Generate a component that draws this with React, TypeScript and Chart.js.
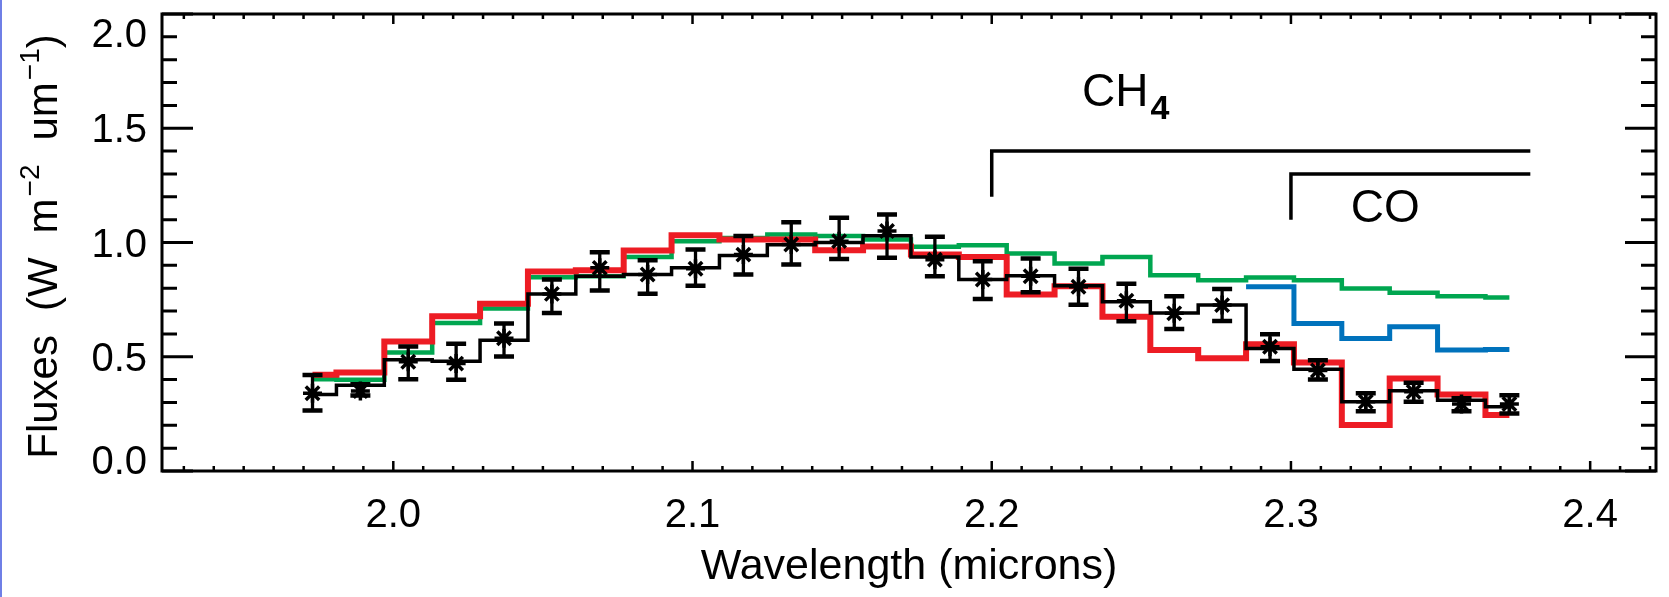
import React, { useEffect, useRef } from 'react';
import { Chart, registerables } from 'chart.js';

Chart.register(...registerables);

// ---- data ----
const wavelengths = [
  1.973, 1.989, 2.005, 2.021, 2.037, 2.053, 2.069, 2.085, 2.101, 2.117, 2.133, 2.149, 2.165,
  2.181, 2.197, 2.213, 2.229, 2.245, 2.261, 2.277, 2.293, 2.309, 2.325, 2.341, 2.357, 2.373,
];
const observed = [
  0.34, 0.35, 0.478, 0.47, 0.581, 0.775, 0.889, 0.86, 0.885, 0.947, 0.991, 1.006, 1.05,
  0.925, 0.838, 0.852, 0.806, 0.745, 0.69, 0.726, 0.544, 0.44, 0.303, 0.347, 0.293, 0.293,
];
const observedHigh = [
  0.42, 0.38, 0.545, 0.557, 0.645, 0.838, 0.957, 0.922, 0.969, 1.028, 1.089, 1.108, 1.123,
  1.025, 0.918, 0.93, 0.885, 0.82, 0.765, 0.796, 0.599, 0.485, 0.34, 0.386, 0.318, 0.332,
];
const observedLow = [
  0.265, 0.33, 0.402, 0.399, 0.501, 0.692, 0.79, 0.776, 0.811, 0.86, 0.904, 0.928, 0.933,
  0.852, 0.753, 0.782, 0.728, 0.655, 0.621, 0.656, 0.481, 0.4, 0.262, 0.303, 0.262, 0.252,
];
const blackModel = [
  0.335, 0.375, 0.487, 0.48, 0.572, 0.775, 0.852, 0.86, 0.889, 0.943, 0.99, 1.0, 1.03,
  0.937, 0.838, 0.855, 0.811, 0.741, 0.692, 0.726, 0.536, 0.445, 0.303, 0.351, 0.31, 0.281,
];
const redModel = [
  0.421, 0.431, 0.567, 0.677, 0.732, 0.873, 0.879, 0.965, 1.032, 1.013, 1.013, 0.966, 0.983,
  0.947, 0.937, 0.772, 0.808, 0.675, 0.529, 0.493, 0.555, 0.475, 0.201, 0.405, 0.335, 0.245,
];
const greenModel = [
  0.402, 0.399, 0.519, 0.648, 0.711, 0.848, 0.852, 0.936, 1.006, 1.02, 1.035, 1.028, 1.013,
  0.981, 0.988, 0.952, 0.908, 0.937, 0.857, 0.835, 0.847, 0.835, 0.799, 0.78, 0.765, 0.759,
];
const blueWavelengths = [2.285, 2.293, 2.309, 2.325, 2.341, 2.357, 2.373];
const blueModel = [0.806, 0.806, 0.646, 0.58, 0.631, 0.529, 0.532];

const xTickLabels = [2.0, 2.1, 2.2, 2.3, 2.4];
const yTickLabels = [0.0, 0.5, 1.0, 1.5, 2.0];

const ch4BracketX = [2.2, 2.2, 2.38];
const ch4BracketY = [1.2, 1.4, 1.4];
const coBracketX = [2.3, 2.3, 2.38];
const coBracketY = [1.1, 1.3, 1.3];

const ch4Label = { x: 2.2302, y: 1.596, main: 'CH', sub: '4' };
const coLabel = { x: 2.32, y: 1.088, main: 'CO' };

const X_MIN = 1.9227;
const X_MAX = 2.422;
const Y_MIN = 0;
const Y_MAX = 2.0;

const FONT = '"Liberation Sans", Arial, Helvetica, sans-serif';
const RED = '#ed1c24';
const GREEN = '#00a650';
const BLUE = '#0072bc';

const pts = (xs: number[], ys: number[]) => xs.map((x, i) => ({ x, y: ys[i] }));

const idlPlugin = {
  id: 'idlFrame',
  beforeDraw(chart: any) {
    const { ctx, width, height } = chart;
    ctx.save();
    ctx.fillStyle = '#ffffff';
    ctx.fillRect(0, 0, width, height);
    ctx.fillStyle = '#6f7fe6';
    ctx.fillRect(0, 0, 2, height);
    ctx.restore();
  },
  afterDatasetsDraw(chart: any) {
    const { ctx } = chart;
    const xs = chart.scales.x;
    const ys = chart.scales.y;
    ctx.save();
    ctx.strokeStyle = '#000';
    ctx.lineCap = 'butt';
    wavelengths.forEach((w, i) => {
      const px = xs.getPixelForValue(w);
      const yt = ys.getPixelForValue(observedHigh[i]);
      const yb = ys.getPixelForValue(observedLow[i]);
      ctx.lineWidth = 3.3;
      ctx.beginPath();
      ctx.moveTo(px, yt);
      ctx.lineTo(px, yb);
      ctx.stroke();
      ctx.lineWidth = 4.5;
      ctx.beginPath();
      ctx.moveTo(px - 10, yt);
      ctx.lineTo(px + 10, yt);
      ctx.moveTo(px - 10, yb);
      ctx.lineTo(px + 10, yb);
      ctx.stroke();
    });
    ctx.restore();
  },
  afterDraw(chart: any) {
    const { ctx, chartArea } = chart;
    const { left, right, top, bottom } = chartArea;
    const xs = chart.scales.x;
    const ys = chart.scales.y;
    ctx.save();
    ctx.strokeStyle = '#000';
    ctx.fillStyle = '#000';
    ctx.lineCap = 'butt';

    // frame
    ctx.lineWidth = 3;
    ctx.strokeRect(left, top, right - left, bottom - top);

    // y ticks (inside, both sides)
    ctx.lineWidth = 3;
    for (let k = 0; k <= 20; k++) {
      const py = ys.getPixelForValue(k / 10);
      const len = k % 5 === 0 ? 31 : 15;
      ctx.beginPath();
      ctx.moveTo(left, py);
      ctx.lineTo(left + len, py);
      ctx.moveTo(right, py);
      ctx.lineTo(right - len, py);
      ctx.stroke();
    }
    // x ticks (inside, bottom and top)
    ctx.lineWidth = 2.5;
    for (let k = 193; k <= 242; k++) {
      const px = xs.getPixelForValue(k / 100);
      if (px < left || px > right) continue;
      const len = k % 10 === 0 ? 10 : 5;
      ctx.beginPath();
      ctx.moveTo(px, bottom);
      ctx.lineTo(px, bottom - len);
      ctx.moveTo(px, top);
      ctx.lineTo(px, top + len);
      ctx.stroke();
    }

    // y tick labels
    ctx.font = `40px ${FONT}`;
    ctx.textAlign = 'right';
    ctx.textBaseline = 'alphabetic';
    yTickLabels.forEach((v) => {
      let cy = ys.getPixelForValue(v);
      cy = Math.min(Math.max(cy, top + 19), bottom - 11);
      ctx.fillText(v.toFixed(1), 147, cy + 14);
    });

    // y title with superscripts (IDL-like wide word gaps)
    const mainFont = `42px ${FONT}`;
    const supFont = `28px ${FONT}`;
    const GAP = 24;
    const parts: { t: string; sup?: boolean; gap?: boolean }[] = [
      { t: 'Fluxes' },
      { t: '', gap: true },
      { t: '(W' },
      { t: '', gap: true },
      { t: 'm' },
      { t: '\u22122', sup: true },
      { t: '', gap: true },
      { t: 'um' },
      { t: '\u22121', sup: true },
      { t: ')' },
    ];
    let total = 0;
    parts.forEach((p) => {
      if (p.gap) {
        total += GAP;
        return;
      }
      ctx.font = p.sup ? supFont : mainFont;
      total += ctx.measureText(p.t).width + (p.sup ? 2 : 0);
    });
    ctx.save();
    ctx.translate(57, (top + bottom) / 2 + 4);
    ctx.rotate(-Math.PI / 2);
    ctx.textAlign = 'left';
    let cx = -total / 2;
    parts.forEach((p) => {
      if (p.gap) {
        cx += GAP;
        return;
      }
      ctx.font = p.sup ? supFont : mainFont;
      ctx.fillText(p.t, cx + (p.sup ? 2 : 0), p.sup ? -18 : 0);
      cx += ctx.measureText(p.t).width + (p.sup ? 2 : 0);
    });
    ctx.restore();

    // annotations
    ctx.textAlign = 'left';
    ctx.font = `46px ${FONT}`;
    const chx = xs.getPixelForValue(ch4Label.x);
    const chy = ys.getPixelForValue(ch4Label.y);
    ctx.fillText(ch4Label.main, chx, chy);
    const w = ctx.measureText(ch4Label.main).width;
    ctx.font = `bold 34px ${FONT}`;
    ctx.fillText(ch4Label.sub, chx + w + 2, chy + 13);
    ctx.font = `46px ${FONT}`;
    ctx.fillText(coLabel.main, xs.getPixelForValue(coLabel.x), ys.getPixelForValue(coLabel.y));

    ctx.restore();
  },
};

export default function App() {
  const ref = useRef<HTMLCanvasElement>(null);
  useEffect(() => {
    if (!ref.current) return;
    const chart = new Chart(ref.current, {
      type: 'line',
      data: {
        datasets: [
          {
            label: 'Observed',
            data: pts(wavelengths, observed),
            showLine: false,
            pointStyle: 'star',
            pointRadius: 9.5,
            pointBorderWidth: 3.5,
            pointBorderColor: '#000',
            pointBackgroundColor: '#000',
          },
          {
            label: 'Model black',
            data: pts(wavelengths, blackModel),
            stepped: 'middle',
            borderColor: '#000',
            borderWidth: 3.5,
            pointRadius: 0,
          },
          {
            label: 'Model red',
            data: pts(wavelengths, redModel),
            stepped: 'middle',
            borderColor: RED,
            borderWidth: 6,
            pointRadius: 0,
          },
          {
            label: 'Model blue',
            data: pts(blueWavelengths, blueModel),
            stepped: 'middle',
            borderColor: BLUE,
            borderWidth: 5,
            pointRadius: 0,
          },
          {
            label: 'Model green',
            data: pts(wavelengths, greenModel),
            stepped: 'middle',
            borderColor: GREEN,
            borderWidth: 4.5,
            pointRadius: 0,
          },
          {
            label: 'CH4',
            data: pts(ch4BracketX, ch4BracketY),
            borderColor: '#000',
            borderWidth: 3.5,
            pointRadius: 0,
            borderJoinStyle: 'miter',
          },
          {
            label: 'CO',
            data: pts(coBracketX, coBracketY),
            borderColor: '#000',
            borderWidth: 3.5,
            pointRadius: 0,
            borderJoinStyle: 'miter',
          },
        ] as any,
      },
      options: {
        animation: false,
        responsive: false,
        devicePixelRatio: 1,
        events: [],
        layout: { padding: { left: 0, top: 14, right: 5, bottom: 0 } },
        plugins: { legend: { display: false }, tooltip: { enabled: false } },
        scales: {
          x: {
            type: 'linear',
            min: X_MIN,
            max: X_MAX,
            grid: { display: false },
            border: { display: false },
            afterBuildTicks: (scale: any) => {
              scale.ticks = xTickLabels.map((v) => ({ value: v }));
            },
            afterFit: (scale: any) => {
              scale.height = 126;
            },
            ticks: {
              color: '#000',
              font: { family: FONT, size: 40 },
              padding: 13,
              maxRotation: 0,
              autoSkip: false,
              callback: (v: any) => Number(v).toFixed(1),
            },
            title: {
              display: true,
              text: 'Wavelength (microns)',
              color: '#000',
              font: { family: FONT, size: 43 },
              padding: { top: 0, bottom: 4 },
            },
          },
          y: {
            type: 'linear',
            min: Y_MIN,
            max: Y_MAX,
            grid: { display: false },
            border: { display: false },
            ticks: { display: false },
            afterFit: (scale: any) => {
              scale.width = 162;
            },
          },
        },
      } as any,
      plugins: [idlPlugin],
    });
    return () => chart.destroy();
  }, []);
  return (
    <div style={{ position: 'absolute', left: 0, top: 0, width: 1669, height: 597, background: '#fff' }}>
      <canvas ref={ref} width={1669} height={597} style={{ display: 'block', width: 1669, height: 597 }} />
    </div>
  );
}
